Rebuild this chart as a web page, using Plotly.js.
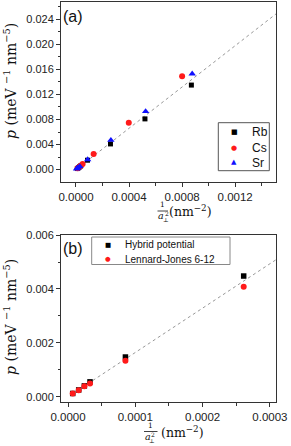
<!DOCTYPE html>
<html>
<head>
<meta charset="utf-8">
<script src="https://cdn.plot.ly/plotly-3.0.1.min.js"></script>
<style>html,body{margin:0;padding:0;background:#fff;}#chart{width:291px;height:446px;}</style>
</head>
<body>
<div id="chart"></div>
<script>
// ---------- Panel (a) data ----------
var rbX = [0.0000104, 0.0000185, 0.000027, 0.0000347, 0.0000868, 0.00026, 0.00052, 0.00087];
var rbY = [0.00017, 0.0003, 0.00045, 0.00058, 0.0015, 0.0041, 0.0081, 0.0135];
var csX = [0.000012, 0.000025, 0.000038, 0.00005, 0.000133, 0.000398, 0.0008];
var csY = [0.0002, 0.0004, 0.00065, 0.0009, 0.0025, 0.0075, 0.0149];
var srX = [0.0000045, 0.000009, 0.000015, 0.000029, 0.000088, 0.000263, 0.000525, 0.000876];
var srY = [0.0001, 0.0002, 0.0003, 0.0005, 0.0016, 0.0047, 0.0093, 0.0153];
var fitAX = [0.0, 0.00151];
var fitAY = [0.0, 0.0249];
var seriesA = ["Rb", "Cs", "Sr"];

// ---------- Panel (b) data ----------
var hybX = [0.000007, 0.0000159, 0.0000243, 0.0000327, 0.0000853, 0.000261];
var hybY = [0.00013, 0.00026, 0.00041, 0.00056, 0.00148, 0.00448];
var ljX = [0.000007, 0.0000159, 0.0000243, 0.0000327, 0.0000853, 0.000261];
var ljY = [0.000126, 0.00025, 0.0004, 0.0005, 0.00134, 0.00408];
var fitBX = [0.000007, 0.00031];
var fitBY = [0.00012, 0.0051];
var seriesB = ["Hybrid potential", "Lennard-Jones 6-12"];

// tick labels
var xTicksA = [0, 0.0004, 0.0008, 0.0012];
var xTickTextA = ["0.0000", "0.0004", "0.0008", "0.0012"];
var yTicksA = [0, 0.004, 0.008, 0.012, 0.016, 0.020, 0.024];
var yTickTextA = ["0.000", "0.004", "0.008", "0.012", "0.016", "0.020", "0.024"];
var xTicksB = [0, 0.0001, 0.0002, 0.0003];
var xTickTextB = ["0.0000", "0.0001", "0.0002", "0.0003"];
var yTicksB = [0, 0.002, 0.004, 0.006];
var yTickTextB = ["0.000", "0.002", "0.004", "0.006"];

var BLACK = "#000000", RED = "#ff1a1a", BLUE = "#1010ff";
var FITC = "#8c8c8c";

// pixel -> paper helpers for layout decoration
var L = 61, W = 215, B = 402, H = 400;
function px(x) { return (x - L) / W; }
function py(y) { return (B - y) / H; }

var traces = [
  {x: fitAX, y: fitAY, xaxis: "x", yaxis: "y", mode: "lines", line: {color: FITC, width: 0.9, dash: "dot"}, showlegend: false, hoverinfo: "skip"},
  {x: rbX, y: rbY, xaxis: "x", yaxis: "y", mode: "markers", name: seriesA[0], marker: {symbol: "square", size: 5, color: BLACK}},
  {x: csX, y: csY, xaxis: "x", yaxis: "y", mode: "markers", name: seriesA[1], marker: {symbol: "circle", size: 6, color: RED}},
  {x: srX, y: srY, xaxis: "x", yaxis: "y", mode: "markers", name: seriesA[2], marker: {symbol: "triangle-up", size: 6.5, color: BLUE}},
  {x: fitBX, y: fitBY, xaxis: "x2", yaxis: "y2", mode: "lines", line: {color: FITC, width: 0.9, dash: "dot"}, showlegend: false, hoverinfo: "skip"},
  {x: hybX, y: hybY, xaxis: "x2", yaxis: "y2", mode: "markers", name: seriesB[0], marker: {symbol: "square", size: 5.5, color: BLACK}},
  {x: ljX, y: ljY, xaxis: "x2", yaxis: "y2", mode: "markers", name: seriesB[1], marker: {symbol: "circle", size: 6, color: RED}}
];

var tickFont = {family: "Liberation Sans, Arial, sans-serif", size: 11, color: "#222"};
var xTickFont = {family: "Liberation Sans, Arial, sans-serif", size: 11.5, color: "#222"};
function axisBase() {
  return {
    showgrid: false, zeroline: false, showline: true, linecolor: "#333", linewidth: 1,
    mirror: true, ticks: "outside", ticklen: 4, tickwidth: 1, tickcolor: "#333",
    tickmode: "array"
  };
}
var xa = Object.assign(axisBase(), {domain: [0, 1], anchor: "y", range: [-0.000113, 0.001508],
  tickvals: xTicksA, ticktext: xTickTextA, tickfont: xTickFont,
  minor: {ticks: "outside", ticklen: 2.5, tickcolor: "#333", dtick: 0.0002, tick0: 0}});
var ya = Object.assign(axisBase(), {domain: [0.55, 1], anchor: "x", range: [-0.00198, 0.02677],
  tickvals: yTicksA, ticktext: yTickTextA, tickfont: tickFont,
  minor: {ticks: "outside", ticklen: 2.5, tickcolor: "#333", dtick: 0.002, tick0: 0}});
var xb = Object.assign(axisBase(), {domain: [0, 1], anchor: "y2", range: [-0.0000104, 0.000309],
  tickvals: xTicksB, ticktext: xTickTextB, tickfont: xTickFont,
  minor: {ticks: "outside", ticklen: 2.5, tickcolor: "#333", dtick: 0.00005, tick0: 0}});
var yb = Object.assign(axisBase(), {domain: [0, 0.4175], anchor: "x2", range: [-0.000186, 0.006],
  tickvals: yTicksB, ticktext: yTickTextB, tickfont: tickFont,
  minor: {ticks: "outside", ticklen: 2.5, tickcolor: "#333", dtick: 0.001, tick0: 0}});

var serif = "DejaVu Serif, Liberation Serif, serif";
var sans = "Liberation Sans, Arial, sans-serif";
function ann(text, x, y, size, family, extra) {
  return Object.assign({text: text, x: x, y: y, xref: "paper", yref: "paper", showarrow: false,
    xanchor: "center", yanchor: "middle", borderpad: 0, font: {family: family, size: size, color: "#111"}}, extra || {});
}

var annotations = [
  // panel labels
  ann("(a)", px(62), py(17), 16, sans, {xanchor: "left"}),
  ann("(b)", px(62), py(249), 16, sans, {xanchor: "left"}),
  // y titles
  ann("<i>p</i> (meV <sup>−1</sup> nm<sup>−5</sup>)", px(10), py(81), 14, serif, {textangle: -90}),
  ann("<i>p</i> (meV <sup>−1</sup> nm<sup>−5</sup>)", px(10), py(317), 14, serif, {textangle: -90}),
  // x title panel a: 1 / a⊥^2 (nm^-2)
  ann("1", px(162.8), py(206), 7.5, serif, {yanchor: "bottom", y: py(210)}),
  ann("<i>a</i>", px(161), py(215.5), 9.5, serif),
  ann("2", px(166.5), py(213.5), 6, serif),
  ann("⊥", px(165.5), py(219.5), 6, serif),
  ann("(nm<sup>−2</sup>)", px(190.5), py(211.5), 12.5, serif),
  // x title panel b
  ann("1", px(150.3), py(427), 7.5, serif, {yanchor: "bottom", y: py(430.5)}),
  ann("<i>a</i>", px(148), py(436.3), 9.5, serif),
  ann("2", px(153.3), py(434.3), 6, serif),
  ann("⊥", px(152.3), py(440.5), 6, serif),
  ann("(nm<sup>−2</sup>)", px(182), py(431.5), 12.5, serif),
  // legend (a)
  ann("■", px(234.3), py(132.3), 7, "DejaVu Sans", {font: {family: "DejaVu Sans", size: 7, color: BLACK}}),
  ann("●", px(234.3), py(147.7), 7, "DejaVu Sans", {font: {family: "DejaVu Sans", size: 7, color: RED}}),
  ann("▲", px(234.3), py(162.4), 7, "DejaVu Sans", {font: {family: "DejaVu Sans", size: 7, color: BLUE}}),
  ann(seriesA[0], px(250.5), py(132.3), 12, sans, {xanchor: "left"}),
  ann(seriesA[1], px(250.5), py(147.7), 12, sans, {xanchor: "left"}),
  ann(seriesA[2], px(250.5), py(162.7), 12, sans, {xanchor: "left"}),
  // legend (b)
  ann("■", px(108.3), py(245), 6.5, "DejaVu Sans", {font: {family: "DejaVu Sans", size: 6.5, color: BLACK}}),
  ann("●", px(108.3), py(259), 6.5, "DejaVu Sans", {font: {family: "DejaVu Sans", size: 6.5, color: RED}}),
  ann(seriesB[0], px(123.5), py(245), 10, sans, {xanchor: "left"}),
  ann(seriesB[1], px(123.5), py(259), 10, sans, {xanchor: "left"})
];

var shapes = [
  // fraction bars
  {type: "line", xref: "paper", yref: "paper", x0: px(157.5), x1: px(168), y0: py(211), y1: py(211), line: {color: "#111", width: 0.8}},
  {type: "line", xref: "paper", yref: "paper", x0: px(144), x1: px(157.5), y0: py(431.5), y1: py(431.5), line: {color: "#111", width: 0.8}},
  // legend boxes
  {type: "rect", xref: "paper", yref: "paper", x0: px(218.3), x1: px(269.3), y0: py(170.7), y1: py(122.7), line: {color: "#555", width: 1}},
  {type: "rect", xref: "paper", yref: "paper", x0: px(91.7), x1: px(230), y0: py(264.5), y1: py(237), line: {color: "#888", width: 1}}
];

var layout = {
  width: 291, height: 446,
  margin: {l: 61, r: 15, t: 2, b: 44, pad: 0},
  paper_bgcolor: "#fff", plot_bgcolor: "#fff",
  showlegend: false,
  xaxis: xa, yaxis: ya, xaxis2: xb, yaxis2: yb,
  annotations: annotations, shapes: shapes
};

Plotly.newPlot("chart", traces, layout, {displayModeBar: false, staticPlot: true});
</script>
</body>
</html>
